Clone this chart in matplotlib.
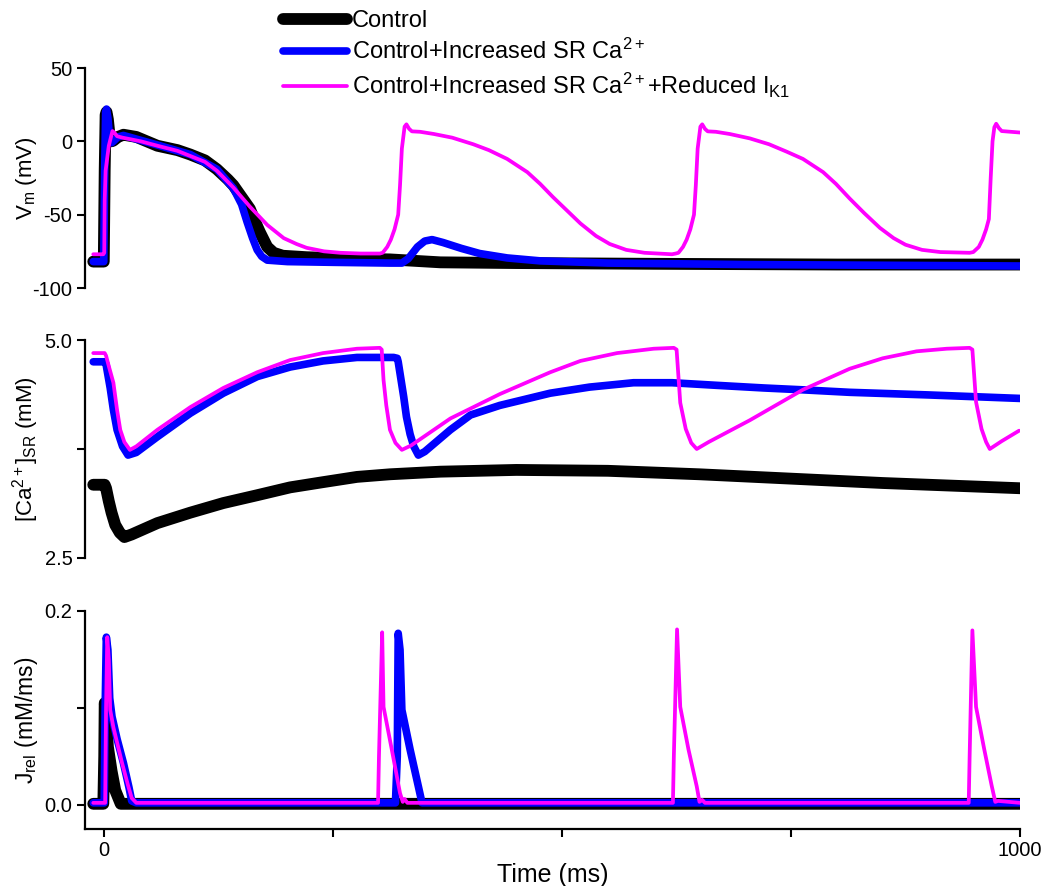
import matplotlib
matplotlib.use("Agg")
import matplotlib.pyplot as plt

plt.rcParams['font.family'] = ['Liberation Sans', 'DejaVu Sans']
plt.rcParams['mathtext.fontset'] = 'custom'
plt.rcParams['mathtext.rm'] = 'Liberation Sans'
plt.rcParams['mathtext.it'] = 'Liberation Sans:italic'
plt.rcParams['mathtext.bf'] = 'Liberation Sans:bold'

# ---------------- data ----------------
series_labels = ["Control",
                 "Control+Increased SR Ca$^{\\mathregular{2+}}$",
                 "Control+Increased SR Ca$^{\\mathregular{2+}}$+Reduced I$_{\\mathregular{K1}}$"]

# Membrane potential (mV)
vm_ctrl_t = [-12, -0.5, 0.5, 1.5, 2.5, 4, 6, 8, 10, 15, 21, 35, 58, 80, 94, 110, 123, 135, 141, 150,
             159, 165, 170, 178, 185, 195, 221, 270, 312, 367, 450, 600, 800, 1000]
vm_ctrl_v = [-82, -82, -20, 18, 20, 15, 3, 0, 0.5, 3, 4.5, 3, -3, -6, -9, -13, -19, -26, -30, -38,
             -46, -55, -62, -72, -76, -78, -79, -80, -80.5, -82.5, -83, -83.5, -84, -84]

vm_sr_t = [-12, -0.5, 0.5, 1.5, 2.5, 4, 6, 8, 10, 15, 21, 58, 94, 123, 141, 150, 156, 162, 167, 172,
           178, 200, 250, 312, 325, 332, 342, 350, 358, 370, 390, 410, 440, 476, 550, 700, 850, 1000]
vm_sr_v = [-82, -82, -20, 20, 22, 16, 2, -1, 0, 3, 4, -2.5, -9, -19, -32, -43, -55, -66, -74, -78.5,
           -81, -82, -82.5, -83, -83, -80, -72, -68, -67, -69, -73, -76.5, -79.5, -81.5, -83, -84, -84.5, -85]

vm_ik1_t = [-12, -1, 0, 0.5, 1.5, 5, 9, 11, 14, 20, 40, 58, 80, 94, 110, 123, 141, 159, 178, 196,
            210, 221, 240, 258, 280, 301, 304, 309, 313, 317, 321, 323, 325, 328, 330, 333, 336, 345,
            360, 380, 403, 420, 440, 462, 476, 490, 505, 520, 537, 552, 570, 590, 620,
            624, 627, 632, 636, 640, 644, 646, 648, 651, 653, 656, 659, 668, 683, 705, 726, 745, 763,
            785, 799, 814, 830, 847, 862, 875, 893, 913, 945,
            949, 955, 959, 963, 966, 968, 970, 972, 974, 977, 980, 990, 1000]
vm_ik1_v = [-77, -77, -76, -40, -20, -3, 7, 6, 3.5, 2.5, 0, -3, -6.5, -10, -14, -20, -31.5, -44.5, -57, -66,
            -70, -72.6, -75, -76, -76.5, -76.5, -76, -72, -67, -60, -50, -30, -5, 10, 11.6, 8.5, 6.8, 6.5,
            5.0, 2.5, -2, -6, -12, -21, -29, -38, -47, -56, -64.5, -70, -74, -76, -77,
            -76.5, -76, -72, -67, -60, -50, -30, -5, 10, 11.6, 8.5, 6.8, 6.5, 5.0, 2.0, -2, -7, -12,
            -21, -29, -39, -49, -59, -66, -70.5, -74, -75.5, -76,
            -75.5, -72, -67, -60, -53, -25, 0, 9.6, 12, 9, 7, 6.5, 6]

# SR calcium (mM)
ca_ctrl_t = [-12, 0.5, 2, 5, 8, 12, 17, 22, 30, 58, 94, 130, 167, 203, 239, 276, 312, 367, 450, 550,
             650, 750, 850, 1000]
ca_ctrl_v = [3.34, 3.34, 3.30, 3.15, 3.02, 2.88, 2.79, 2.74, 2.77, 2.90, 3.02, 3.13, 3.22, 3.31, 3.37,
             3.43, 3.46, 3.49, 3.51, 3.50, 3.46, 3.41, 3.36, 3.30]

ca_sr_t = [-12, 0.5, 2, 4, 6.5, 10, 14, 20, 26, 35, 58, 94, 130, 167, 203, 239, 276, 316, 320, 321,
           324, 327, 330, 334, 338, 343, 350, 378, 400, 432, 487, 530, 578, 620, 669, 720, 760, 814, 900, 1000]
ca_sr_v = [4.75, 4.75, 4.72, 4.60, 4.45, 4.20, 3.97, 3.78, 3.68, 3.71, 3.89, 4.16, 4.39, 4.58, 4.69,
           4.76, 4.80, 4.80, 4.79, 4.75, 4.55, 4.35, 4.12, 3.92, 3.78, 3.68, 3.72, 3.97, 4.14, 4.25,
           4.39, 4.46, 4.51, 4.51, 4.48, 4.45, 4.43, 4.40, 4.37, 4.33]

ca_ik1_t = [-12, 0.5, 2, 5, 10, 14, 17.5, 22, 28, 35, 58, 94, 130, 167, 203, 239, 276, 301, 303, 305,
            308, 312, 318, 325, 335, 378, 432, 487, 520, 560, 600, 622, 625, 629, 635, 641, 647, 660,
            705, 763, 814, 850, 887, 920, 945, 948, 952, 958, 963, 967, 980, 999]
ca_ik1_v = [4.85, 4.85, 4.82, 4.70, 4.51, 4.20, 3.97, 3.83, 3.74, 3.78, 3.97, 4.23, 4.45, 4.63, 4.77,
            4.85, 4.90, 4.91, 4.89, 4.54, 4.25, 3.97, 3.82, 3.74, 3.79, 4.10, 4.38, 4.63, 4.76, 4.85,
            4.90, 4.91, 4.89, 4.28, 3.98, 3.82, 3.75, 3.83, 4.08, 4.43, 4.67, 4.79, 4.87, 4.90, 4.91,
            4.89, 4.29, 3.98, 3.83, 3.75, 3.84, 3.96]

# SR release flux (mM/ms)
j_ctrl_t = [-12, -1, 0, 0.5, 1.5, 4, 8, 12, 18, 1000]
j_ctrl_v = [0.001, 0.001, 0.05, 0.105, 0.10, 0.06, 0.035, 0.015, 0.001, 0.001]

j_sr_t = [-12, 0, 1, 2.3, 4, 6, 8.5, 14, 21, 27, 30, 35, 318, 320, 321, 323, 325, 334, 343, 347, 1000]
j_sr_v = [0.002, 0.002, 0.10, 0.173, 0.16, 0.11, 0.091, 0.068, 0.043, 0.018, 0.004, 0.002, 0.002,
          0.05, 0.177, 0.16, 0.098, 0.057, 0.019, 0.002, 0.002]

j_ik1_t = [-12, 1, 2, 3.3, 5, 6.5, 10, 19.5, 26, 30, 35, 299, 300, 303.5, 305, 314, 323, 326, 328, 331,
           621, 622, 625.5, 629, 638, 647, 650, 653, 656, 944, 945, 948, 952, 961, 969, 973, 976, 1000]
j_ik1_v = [0.002, 0.002, 0.10, 0.173, 0.15, 0.098, 0.08, 0.043, 0.02, 0.007, 0.002, 0.002, 0.05, 0.178,
           0.101, 0.057, 0.012, 0.003, 0.006, 0.002, 0.002, 0.05, 0.181, 0.101, 0.057, 0.019, 0.003,
           0.005, 0.002, 0.002, 0.05, 0.18, 0.101, 0.057, 0.02, 0.003, 0.004, 0.002]

x_ticks = [0, 250, 500, 750, 1000]
x_ticklabels = ["0", "", "", "", "1000"]
vm_ticks = [50, 0, -50, -100]
vm_ticklabels = ["50", "0", "-50", "-100"]
ca_ticks = [5.0, 3.75, 2.5]
ca_ticklabels = ["5.0", "", "2.5"]
j_ticks = [0.2, 0.1, 0.0]
j_ticklabels = ["0.2", "", "0.0"]

colors = ["#000000", "#0000ff", "#ff00ff"]
widths = [8.5, 5.5, 2.7]

# ---------------- figure ----------------
fig = plt.figure(figsize=(10.47, 8.86), dpi=100)
L, W = 85 / 1047, 935 / 1047
def pos(top_px, bot_px):
    return [L, 1 - bot_px / 886, W, (bot_px - top_px) / 886]

ax1 = fig.add_axes(pos(68, 288))
ax2 = fig.add_axes(pos(340, 558))
ax3 = fig.add_axes(pos(611, 829))

data = [
    (ax1, [(vm_ctrl_t, vm_ctrl_v), (vm_sr_t, vm_sr_v), (vm_ik1_t, vm_ik1_v)]),
    (ax2, [(ca_ctrl_t, ca_ctrl_v), (ca_sr_t, ca_sr_v), (ca_ik1_t, ca_ik1_v)]),
    (ax3, [(j_ctrl_t, j_ctrl_v), (j_sr_t, j_sr_v), (j_ik1_t, j_ik1_v)]),
]
handles = []
for ax, ser in data:
    for i, (t, v) in enumerate(ser):
        ln, = ax.plot(t, v, color=colors[i], lw=widths[i], solid_capstyle='round',
                      solid_joinstyle='round', label=series_labels[i])
        if ax is ax1:
            handles.append(ln)

for ax in (ax1, ax2, ax3):
    ax.set_xlim(-21, 1000)
    for s in ("top", "right"):
        ax.spines[s].set_visible(False)
    ax.spines["left"].set_linewidth(1.6)
    ax.spines["bottom"].set_linewidth(1.6)
    ax.tick_params(axis='both', direction='out', length=6, width=1.5, labelsize=14.5, pad=3)

for ax in (ax1, ax2):
    ax.spines["bottom"].set_visible(False)
    ax.set_xticks([])

ax1.set_ylim(-100, 50)
ax1.set_yticks(vm_ticks)
ax1.set_yticklabels(vm_ticklabels)
ax2.set_ylim(2.5, 5.0)
ax2.set_yticks(ca_ticks)
ax2.set_yticklabels(ca_ticklabels)
ax3.set_ylim(-0.025, 0.2)
ax3.set_yticks(j_ticks)
ax3.set_yticklabels(j_ticklabels)
ax3.set_xticks(x_ticks)
ax3.set_xticklabels(x_ticklabels)
ax3.set_xlabel("Time (ms)", fontsize=18, labelpad=2)

ax1.set_ylabel("V$_{\\mathregular{m}}$ (mV)", fontsize=16, ha='center', va='center')
ax2.set_ylabel("[Ca$^{\\mathregular{2+}}$]$_{\\mathregular{SR}}$ (mM)", fontsize=16, ha='center', va='center')
ax3.set_ylabel("J$_{\\mathregular{rel}}$ (mM/ms)", fontsize=16.5, ha='center', va='center')
for ax in (ax1, ax2, ax3):
    ax.yaxis.set_label_coords((26 - 85) / 935, 0.5)

leg = fig.legend(handles=handles, loc='upper left', bbox_to_anchor=(283 / 1047, 1 - 10 / 886),
                 frameon=False, fontsize=17, handlelength=2.7, handletextpad=0.22,
                 labelspacing=0.3, borderpad=0, borderaxespad=0)

fig.savefig("out.png", dpi=100)
